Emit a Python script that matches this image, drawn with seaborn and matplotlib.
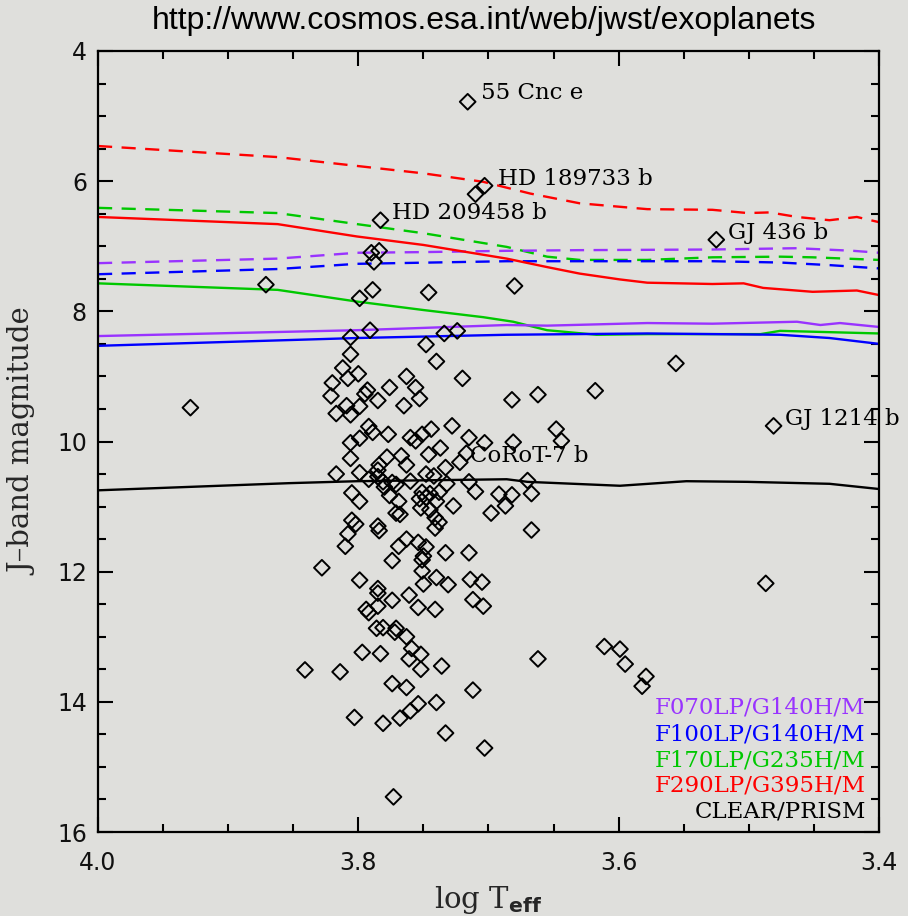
import matplotlib
matplotlib.use("Agg")
import matplotlib.pyplot as plt
from matplotlib.ticker import MultipleLocator, FormatStrFormatter
import seaborn as sns
import pandas as pd

# ---------------- data ----------------
teff = [3.716, 3.703, 3.710, 3.783, 3.790, 3.784, 3.788, 3.871, 3.789, 3.799,
        3.746, 3.791, 3.734, 3.724, 3.806, 3.525, 3.680, 3.929, 3.556, 3.682,
        3.662, 3.618, 3.481, 3.648, 3.644, 3.681, 3.703, 3.670, 3.667, 3.692,
        3.682, 3.687, 3.698, 3.667, 3.487, 3.705, 3.662, 3.611, 3.599, 3.595,
        3.579, 3.582, 3.703, 3.704, 3.841, 3.814, 3.803, 3.781, 3.768, 3.760,
        3.754, 3.740, 3.733, 3.712, 3.773, 3.774, 3.763, 3.797, 3.783, 3.761,
        3.752, 3.736, 3.759, 3.752, 3.763, 3.772, 3.771, 3.781, 3.786, 3.794,
        3.792, 3.785, 3.785, 3.774, 3.761, 3.754, 3.741, 3.750, 3.731, 3.712,
        3.714, 3.799, 3.748, 3.806, 3.740, 3.812, 3.800, 3.808, 3.820, 3.763,
        3.720, 3.776, 3.756, 3.793, 3.795, 3.821, 3.753, 3.785, 3.765, 3.809,
        3.799, 3.817, 3.806, 3.728, 3.792, 3.789, 3.777, 3.744, 3.751, 3.760,
        3.756, 3.715, 3.799, 3.806, 3.737, 3.746, 3.717, 3.722, 3.806, 3.778,
        3.767, 3.763, 3.784, 3.785, 3.733, 3.817, 3.799, 3.792, 3.785, 3.781,
        3.774, 3.760, 3.748, 3.742, 3.732, 3.715, 3.710, 3.805, 3.799, 3.776,
        3.769, 3.771, 3.768, 3.751, 3.745, 3.738, 3.748, 3.740, 3.752, 3.745,
        3.727, 3.741, 3.738, 3.741, 3.805, 3.802, 3.808, 3.810, 3.785, 3.784,
        3.763, 3.769, 3.754, 3.748, 3.750, 3.774, 3.733, 3.715, 3.828, 3.751,
        3.740, 3.785, 3.753, 3.780, 3.771, 3.751]
jmag = [4.78, 6.07, 6.20, 6.60, 7.10, 7.07, 7.24, 7.59, 7.67, 7.80,
        7.71, 8.29, 8.34, 8.30, 8.40, 6.90, 7.61, 9.48, 8.80, 9.36,
        9.28, 9.22, 9.76, 9.81, 9.99, 10.01, 10.02, 10.60, 10.80, 10.81,
        10.82, 10.99, 11.10, 11.36, 12.18, 12.16, 13.34, 13.15, 13.19, 13.42,
        13.61, 13.76, 14.71, 12.53, 13.51, 13.54, 14.24, 14.33, 14.25, 14.14,
        14.03, 14.01, 14.48, 13.82, 15.46, 13.72, 13.78, 13.24, 13.26, 13.34,
        13.50, 13.45, 13.18, 13.27, 13.00, 12.93, 12.87, 12.86, 12.87, 12.58,
        12.63, 12.53, 12.33, 12.44, 12.36, 12.55, 12.58, 12.19, 12.20, 12.43,
        12.12, 12.13, 8.51, 8.66, 8.77, 8.87, 8.96, 9.03, 9.10, 9.00,
        9.03, 9.17, 9.17, 9.21, 9.27, 9.30, 9.34, 9.37, 9.45, 9.45,
        9.46, 9.57, 9.59, 9.76, 9.77, 9.86, 9.89, 9.81, 9.89, 9.94,
        9.99, 9.94, 9.95, 10.02, 10.10, 10.20, 10.18, 10.32, 10.26, 10.24,
        10.22, 10.36, 10.36, 10.44, 10.40, 10.50, 10.48, 10.58, 10.54, 10.62,
        10.63, 10.61, 10.50, 10.53, 10.65, 10.62, 10.77, 10.79, 10.92, 10.83,
        10.92, 11.10, 11.12, 10.78, 10.80, 10.78, 10.86, 10.92, 11.02, 11.05,
        10.99, 11.17, 11.24, 11.33, 11.21, 11.27, 11.42, 11.61, 11.30, 11.37,
        11.50, 11.61, 11.55, 11.62, 11.76, 11.83, 11.71, 11.71, 11.94, 11.99,
        12.09, 12.26, 10.88, 10.70, 10.66, 11.82]

planet_names = ["55 Cnc e", "HD 189733 b", "HD 209458 b", "GJ 436 b", "GJ 1214 b", "CoRoT-7 b"]
label_x = [3.706, 3.693, 3.774, 3.516, 3.472, 3.714]
label_y = [4.65, 5.97, 6.49, 6.80, 9.65, 10.22]

filters = ["F070LP/G140H/M", "F100LP/G140H/M", "F170LP/G235H/M", "F290LP/G395H/M", "CLEAR/PRISM"]
filter_colors = ["#9933ff", "#0000ff", "#00c800", "#ff0000", "#000000"]

# saturation-limit curves (dashed) and solid curves
red_dash_x = [4.0, 3.862, 3.75, 3.704, 3.668, 3.630, 3.578, 3.528, 3.501, 3.484, 3.463, 3.438, 3.417, 3.4]
red_dash_y = [5.46, 5.63, 5.88, 6.01, 6.19, 6.34, 6.43, 6.44, 6.49, 6.48, 6.55, 6.60, 6.55, 6.63]
green_dash_x = [4.0, 3.862, 3.801, 3.75, 3.686, 3.655, 3.630, 3.578, 3.528, 3.476, 3.451, 3.4]
green_dash_y = [6.41, 6.49, 6.66, 6.80, 7.01, 7.16, 7.21, 7.21, 7.17, 7.16, 7.17, 7.21]
purple_dash_x = [4.0, 3.862, 3.801, 3.75, 3.686, 3.630, 3.528, 3.463, 3.42, 3.4]
purple_dash_y = [7.26, 7.19, 7.10, 7.09, 7.07, 7.06, 7.05, 7.03, 7.07, 7.10]
blue_dash_x = [4.0, 3.862, 3.801, 3.686, 3.630, 3.528, 3.476, 3.438, 3.4]
blue_dash_y = [7.43, 7.35, 7.27, 7.23, 7.23, 7.23, 7.25, 7.29, 7.34]

red_solid_x = [4.0, 3.862, 3.801, 3.75, 3.686, 3.655, 3.630, 3.599, 3.578, 3.528, 3.504, 3.489, 3.451, 3.417, 3.4]
red_solid_y = [6.55, 6.66, 6.85, 6.98, 7.19, 7.32, 7.42, 7.51, 7.56, 7.58, 7.57, 7.64, 7.70, 7.68, 7.75]
green_solid_x = [4.0, 3.862, 3.801, 3.75, 3.704, 3.681, 3.655, 3.617, 3.578, 3.491, 3.476, 3.4]
green_solid_y = [7.57, 7.67, 7.85, 7.98, 8.09, 8.16, 8.29, 8.36, 8.35, 8.35, 8.30, 8.34]
purple_solid_x = [4.0, 3.801, 3.686, 3.655, 3.578, 3.528, 3.463, 3.445, 3.430, 3.4]
purple_solid_y = [8.38, 8.29, 8.21, 8.22, 8.18, 8.19, 8.16, 8.21, 8.18, 8.24]
blue_solid_x = [4.0, 3.801, 3.686, 3.578, 3.476, 3.438, 3.4]
blue_solid_y = [8.53, 8.41, 8.36, 8.34, 8.36, 8.41, 8.50]
black_x = [4.0, 3.853, 3.801, 3.686, 3.670, 3.599, 3.548, 3.501, 3.438, 3.4]
black_y = [10.75, 10.64, 10.61, 10.58, 10.62, 10.68, 10.61, 10.62, 10.65, 10.73]

x_ticks = [4.0, 3.8, 3.6, 3.4]
y_ticks = [4, 6, 8, 10, 12, 14, 16]

# ---------------- style ----------------
sns.set_style("ticks")
BG = "#dfdfdc"
plt.rcParams["font.family"] = ["DejaVu Serif"]
plt.rcParams["mathtext.fontset"] = "dejavusans"

fig = plt.figure(figsize=(9.08, 9.16), dpi=100, facecolor=BG)
ax = fig.add_axes([98 / 908, 1 - 832 / 916, 781 / 908, 781 / 916])
ax.set_facecolor(BG)

curves = [
    (red_dash_x, red_dash_y, "#ff0000", "--"),
    (green_dash_x, green_dash_y, "#00c800", "--"),
    (purple_dash_x, purple_dash_y, "#9933ff", "--"),
    (blue_dash_x, blue_dash_y, "#0000ff", "--"),
    (red_solid_x, red_solid_y, "#ff0000", "-"),
    (green_solid_x, green_solid_y, "#00c800", "-"),
    (purple_solid_x, purple_solid_y, "#9933ff", "-"),
    (blue_solid_x, blue_solid_y, "#0000ff", "-"),
    (black_x, black_y, "#000000", "-"),
]
for cx, cy, col, ls in curves:
    dfc = pd.DataFrame({"x": cx, "y": cy})
    sns.lineplot(data=dfc, x="x", y="y", sort=False, estimator=None,
                 color=col, linewidth=1.7, ax=ax)
    line = ax.lines[-1]
    if ls == "--":
        line.set_dashes((6, 4))

dfp = pd.DataFrame({"teff": teff, "jmag": jmag})
sns.scatterplot(data=dfp, x="teff", y="jmag", marker="D", s=64,
                facecolor="none", edgecolor="black", linewidth=1.4, ax=ax, zorder=5)

for name, lx, ly in zip(planet_names, label_x, label_y):
    ax.text(lx, ly, name, fontsize=16.5, ha="left", va="center", color="black",
            family="DejaVu Serif", zorder=6)

leg_y = [0.159, 0.125, 0.092, 0.059, 0.026]
for name, col, yy in zip(filters, filter_colors, leg_y):
    ax.text(0.983, yy, name, transform=ax.transAxes, fontsize=16.5, color=col,
            ha="right", va="center", family="DejaVu Serif")

ax.set_xlim(4.0, 3.4)
ax.set_ylim(16, 4)
ax.set_xticks(x_ticks)
ax.set_yticks(y_ticks)
ax.xaxis.set_minor_locator(MultipleLocator(0.05))
ax.yaxis.set_minor_locator(MultipleLocator(0.5))
ax.xaxis.set_major_formatter(FormatStrFormatter("%.1f"))
ax.yaxis.set_major_formatter(FormatStrFormatter("%d"))
ax.tick_params(which="both", direction="in", top=True, right=True,
               width=1.5, color="black")
ax.tick_params(which="major", length=11)
ax.tick_params(which="minor", length=5.5)
ax.tick_params(axis="x", which="major", pad=14)
ax.tick_params(axis="y", which="major", pad=8)
for lab in ax.get_xticklabels() + ax.get_yticklabels():
    lab.set_family("DejaVu Sans")
    lab.set_fontsize(17)
    lab.set_color("#111111")
for sp in ax.spines.values():
    sp.set_linewidth(1.6)
    sp.set_color("black")

ax.set_xlabel(r"log T$_{\mathbf{eff}}$", fontsize=21, family="DejaVu Serif")
ax.set_ylabel("J\u2013band magnitude", fontsize=21, family="DejaVu Serif",
              va="center", ha="center")
ax.xaxis.set_label_coords(0.5, -0.066)
ax.yaxis.set_label_coords(-0.095, 0.5)

fig.text(484 / 908, 1 - 21 / 916, "http://www.cosmos.esa.int/web/jwst/exoplanets",
         fontsize=23, family="Liberation Sans", ha="center", va="center", color="black")

fig.savefig("out.png", dpi=100, facecolor=BG)
